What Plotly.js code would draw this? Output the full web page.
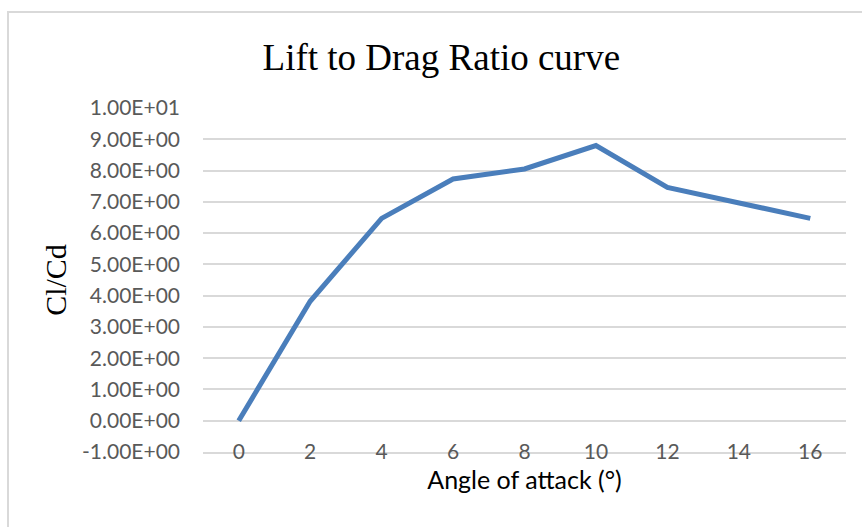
<!DOCTYPE html>
<html>
<head>
<meta charset="utf-8">
<script src="https://cdn.plot.ly/plotly-3.0.1.min.js"></script>
<style>
  html, body { margin: 0; padding: 0; background: #ffffff; }
  #chart { width: 862px; height: 527px; }
</style>
</head>
<body>
<div id="chart"></div>
<script>
// Data
var angles = ['0', '2', '4', '6', '8', '10', '12', '14', '16'];
var liftToDrag = [0.0, 3.82, 6.47, 7.73, 8.05, 8.80, 7.46, 6.98, 6.47];
var yTickValues = [-1, 0, 1, 2, 3, 4, 5, 6, 7, 8, 9, 10];
var yTickLabels = ['-1.00E+00', '0.00E+00', '1.00E+00', '2.00E+00', '3.00E+00', '4.00E+00',
                   '5.00E+00', '6.00E+00', '7.00E+00', '8.00E+00', '9.00E+00', '1.00E+01'];

var trace = {
  x: angles,
  y: liftToDrag,
  type: 'scatter',
  mode: 'lines',
  line: { color: '#4a7ebb', width: 5 },
  hoverinfo: 'x+y'
};

var layout = {
  width: 862,
  height: 527,
  margin: { l: 203, r: 16, t: 108, b: 75 },
  paper_bgcolor: '#ffffff',
  plot_bgcolor: '#ffffff',
  showlegend: false,
  title: {
    text: 'Lift to Drag Ratio curve',
    font: { family: 'Liberation Serif, Times New Roman, serif', size: 37, color: '#000000' },
    xref: 'container', x: 0.512, xanchor: 'center',
    yref: 'container', y: 0.892, yanchor: 'middle'
  },
  xaxis: {
    type: 'category',
    range: [-0.5, 8.5],
    showgrid: false,
    zeroline: false,
    showline: true,
    linecolor: '#d9d9d9',
    linewidth: 2,
    ticks: '',
    ticklabelstandoff: -20,
    tickfont: { family: 'Lato, sans-serif', size: 21, color: '#595959' },
    title: {
      text: 'Angle of attack (°)',
      font: { family: 'Lato, sans-serif', size: 25, color: '#000000' },
      standoff: 9
    },
    fixedrange: true
  },
  yaxis: {
    range: [-1, 10],
    tickvals: yTickValues,
    ticktext: yTickLabels,
    showgrid: true,
    gridcolor: '#d9d9d9',
    gridwidth: 2,
    zeroline: false,
    showline: false,
    ticks: '',
    ticklabelstandoff: 22,
    tickfont: { family: 'Lato, sans-serif', size: 21, color: '#595959' },
    title: {
      text: 'Cl/Cd',
      font: { family: 'Liberation Serif, Times New Roman, serif', size: 30, color: '#000000' },
      standoff: 6
    },
    fixedrange: true
  },
  shapes: [{
    type: 'rect', xref: 'paper', yref: 'paper',
    x0: (8 - 203) / 643, x1: (900 - 203) / 643,
    y0: -0.4, y1: (452 - 12) / 344,
    line: { color: '#d9d9d9', width: 2 },
    fillcolor: 'rgba(0,0,0,0)',
    layer: 'below'
  }]
};

Plotly.newPlot('chart', [trace], layout, { displayModeBar: false, staticPlot: true });
</script>
</body>
</html>
